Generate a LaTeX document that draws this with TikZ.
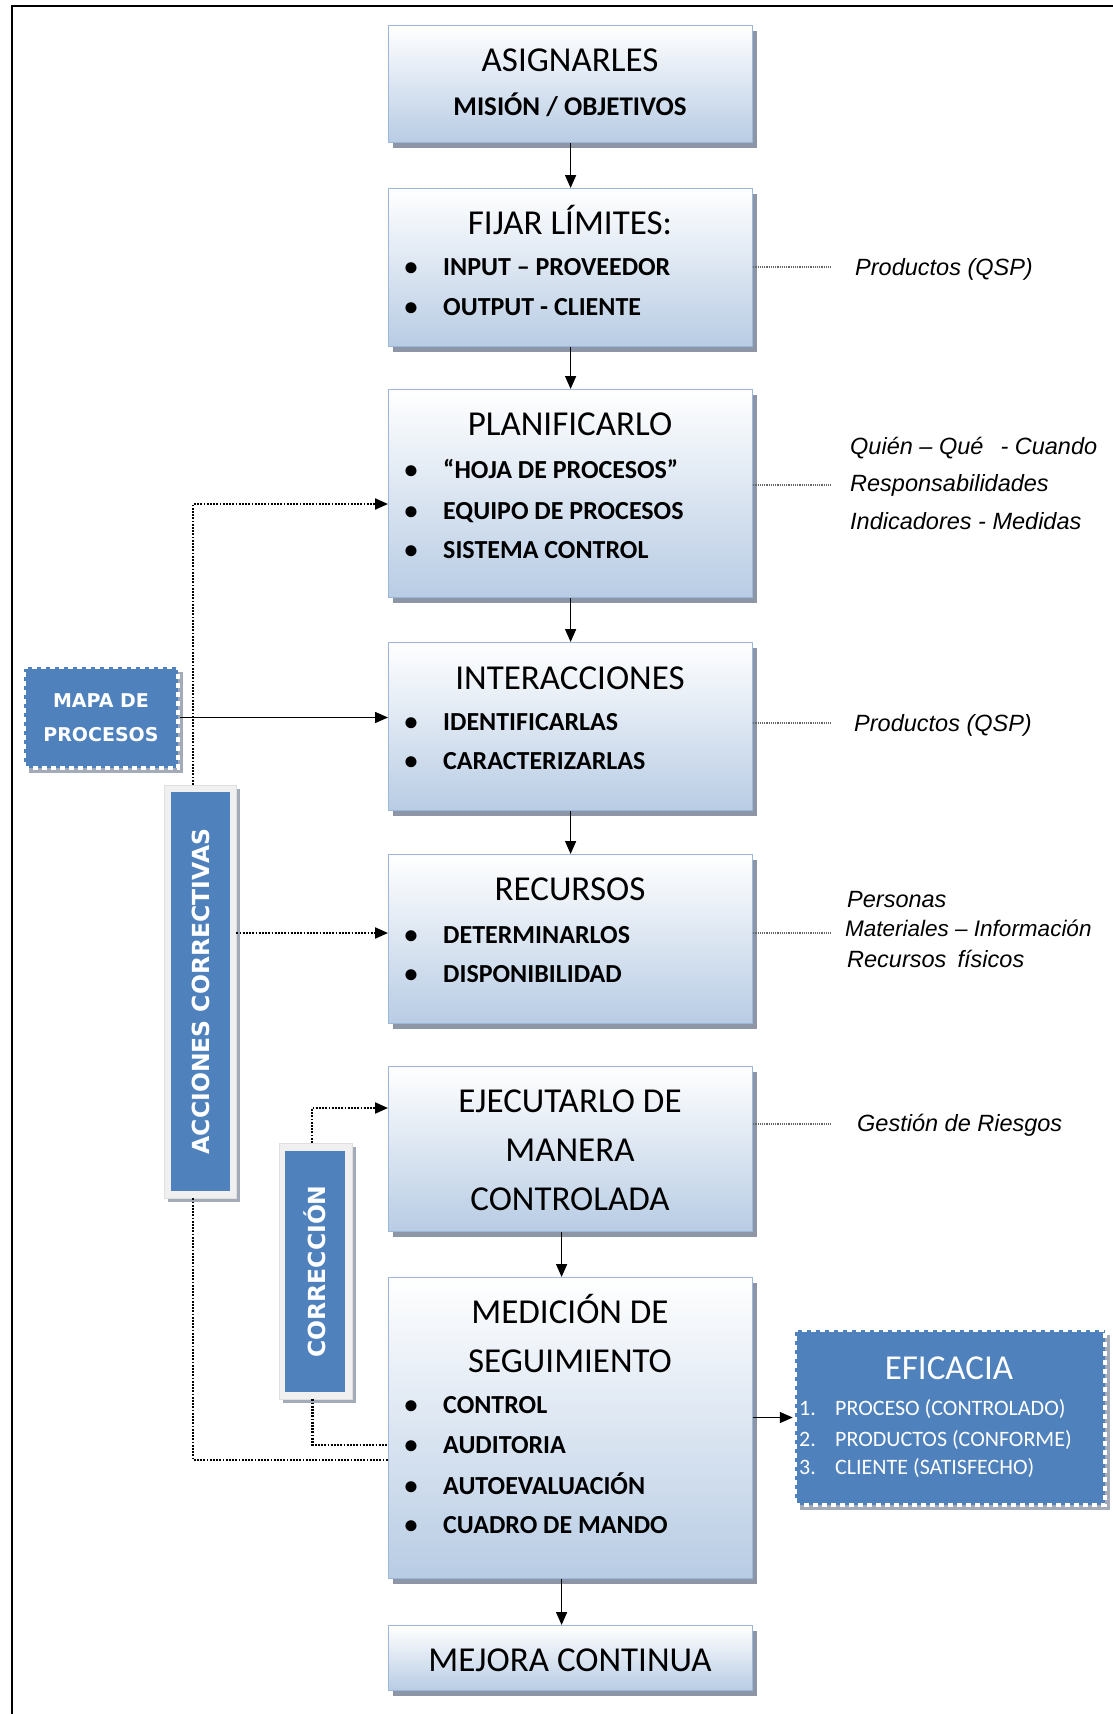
\documentclass[tikz,border=0pt]{standalone}
\usepackage{fontspec}
\setmainfont{Carlito}
\newfontfamily\labelfont{Liberation Sans}
\newfontfamily\tagfont{DejaVu Sans}
\usetikzlibrary{arrows.meta,calc,shadows}

\definecolor{boxbot}{RGB}{184,204,228}
\definecolor{boxedge}{RGB}{155,183,218}
\definecolor{shadowc}{RGB}{140,150,166}
\definecolor{tagblue}{RGB}{79,129,189}
\definecolor{tagframe}{RGB}{240,240,240}

\newcommand{\fsz}[1]{\fontsize{#1}{#1}\selectfont}
% one bullet line inside a process box: name, baseline, text
\newcommand{\bulletrow}[3]{%
  \node[bul] (#1d) at (411,#2) {•};
  \node[itm] (#1) at (443,#2) {#3};}

\begin{document}
\begin{tikzpicture}[x=1pt,y=-1pt,
  mainbox/.style={draw=boxedge, line width=1.2pt, top color=white, bottom color=boxbot,
    minimum width=364pt, inner sep=0pt, anchor=north west,
    drop shadow={shadow xshift=4pt,shadow yshift=-5pt,fill=shadowc,opacity=1}},
  ttl/.style={font=\fsz{35}, inner sep=0pt, anchor=base},
  subttl/.style={font=\bfseries\fsz{27}, inner sep=0pt, anchor=base},
  itm/.style={font=\bfseries\fsz{26}, inner sep=0pt, anchor=base west},
  bul/.style={font=\bfseries\fsz{26}, inner sep=0pt, anchor=base},
  sidenote/.style={font=\labelfont\itshape\fsz{23.5}, inner sep=0pt, anchor=base west},
  leader/.style={draw=black!60, line width=2.4pt, dash pattern=on 1.2pt off 1pt},
  flow/.style={draw=black, line width=1.5pt, -{Triangle[length=13pt,width=11pt]}},
  fbline/.style={draw=black, line width=2.2pt, dash pattern=on 1.8pt off 1.4pt},
  fbarr/.style={fbline, -{Triangle[length=13pt,width=11pt]}},
  stampbox/.style={fill=tagblue, draw=white, line width=4.5pt, dash pattern=on 5pt off 4pt,
    inner sep=0pt, drop shadow={shadow xshift=5pt,shadow yshift=-5pt,fill=shadowc!80,opacity=1}},
  barframe/.style={fill=tagframe, draw=gray!25, line width=0.6pt, inner sep=0pt,
    drop shadow={shadow xshift=4pt,shadow yshift=-4pt,fill=shadowc!80,opacity=1}},
  barin/.style={fill=tagblue, rotate=90, text=white, font=\tagfont\bfseries\fsz{23.5}, inner sep=0pt},
  efitem/.style={font=\fsz{22}, text=white, inner sep=0pt, anchor=base west}]

\useasboundingbox (0,0) rectangle (1113,1714);
\fill[white] (0,0) rectangle (1113,1714);
% page frame
\draw[line width=2.5pt] (12,1714) -- (12,6) -- (1113,6);

% process boxes
\node[mainbox, minimum height=117pt] (b1) at (388,25) {};
\node[mainbox, minimum height=158pt] (b2) at (388,188) {};
\node[mainbox, minimum height=208pt] (b3) at (388,389) {};
\node[mainbox, minimum height=168pt] (b4) at (388,642) {};
\node[mainbox, minimum height=169pt] (b5) at (388,854) {};
\node[mainbox, minimum height=165pt] (b6) at (388,1066) {};
\node[mainbox, minimum height=301pt] (b7) at (388,1277) {};
\node[mainbox, minimum height=65pt] (b8) at (388,1625) {};

% box texts
\node[ttl] (t1) at (570,71) {ASIGNARLES};
\node[subttl] (t1b) at (570,115) {MISIÓN / OBJETIVOS};

\node[ttl] (t2) at (570,234) {FIJAR LÍMITES:};
\bulletrow{i2a}{275}{INPUT – PROVEEDOR}
\bulletrow{i2b}{315}{OUTPUT - CLIENTE}

\node[ttl] (t3) at (570,435) {PLANIFICARLO};
\bulletrow{i3a}{478}{“HOJA DE PROCESOS”}
\bulletrow{i3b}{519}{EQUIPO DE PROCESOS}
\bulletrow{i3c}{558}{SISTEMA CONTROL}

\node[ttl] (t4) at (570,689) {INTERACCIONES};
\bulletrow{i4a}{730}{IDENTIFICARLAS}
\bulletrow{i4b}{769}{CARACTERIZARLAS}

\node[ttl] (t5) at (570,900) {RECURSOS};
\bulletrow{i5a}{943}{DETERMINARLOS}
\bulletrow{i5b}{982}{DISPONIBILIDAD}

\node[ttl] (t6a) at (570,1112) {EJECUTARLO DE};
\node[ttl] (t6b) at (570,1161) {MANERA};
\node[ttl] (t6c) at (570,1210) {CONTROLADA};

\node[ttl] (t7a) at (570,1323) {MEDICIÓN DE};
\node[ttl] (t7b) at (570,1372) {SEGUIMIENTO};
\bulletrow{i7a}{1413}{CONTROL}
\bulletrow{i7b}{1453}{AUDITORIA}
\bulletrow{i7c}{1494}{AUTOEVALUACIÓN}
\bulletrow{i7d}{1533}{CUADRO DE MANDO}

\node[ttl] (t8) at (570,1671) {MEJORA CONTINUA};

% main flow
\draw[flow] (b1.south) -- (b2.north);
\draw[flow] (b2.south) -- (b3.north);
\draw[flow] (b3.south) -- (b4.north);
\draw[flow] (b4.south) -- (b5.north);
\draw[flow] ($(b6.south)+(-9,0)$) -- ($(b7.north)+(-9,0)$);
\draw[flow] ($(b7.south)+(-9,0)$) -- ($(b8.north)+(-9,0)$);

% side notes with dotted leaders
\coordinate (n2) at (832,267);
\coordinate (n3) at (832,485);
\coordinate (n4) at (832,723);
\coordinate (n5) at (832,933);
\coordinate (n6) at (832,1124);
\draw[leader] (n2 -| b2.east) -- (n2);
\draw[leader] (n3 -| b3.east) -- (n3);
\draw[leader] (n4 -| b4.east) -- (n4);
\draw[leader] (n5 -| b5.east) -- (n5);
\draw[leader] (n6 -| b6.east) -- (n6);
\node[sidenote] (s2) at (855,275) {Productos (QSP)};
\node[sidenote] (s3a) at (850,454) {Quién – Qué\hspace{0.45em} - Cuando};
\node[sidenote] (s3b) at (850,491) {Responsabilidades};
\node[sidenote] (s3c) at (850,529) {Indicadores - Medidas};
\node[sidenote] (s4) at (854,731) {Productos (QSP)};
\node[sidenote] (s5a) at (847,907) {Personas};
\node[sidenote, font=\labelfont\itshape\fsz{22.5}] (s5b) at (845,936) {Materiales – Información};
\node[sidenote] (s5c) at (847,967) {Recursos\hspace{0.2em} físicos};
\node[sidenote] (s6) at (857,1131) {Gestión de Riesgos};

% process map input
\node[stampbox, minimum width=154pt, minimum height=101pt, text=white,
  font=\tagfont\bfseries\fontsize{19}{34}\selectfont, align=center] (mapa) at (101,717.5)
  {MAPA DE\\PROCESOS};
\draw[flow] (mapa.east) -- (mapa.east -| b4.west);

% effectiveness output
\node[stampbox, minimum width=310pt, minimum height=175pt] (efi) at (950,1417.5) {};
\node[font=\fsz{35}, text=white, inner sep=0pt, anchor=base] (efit) at (949,1379) {EFICACIA};
\node[efitem] (e1n) at (799,1415) {1.};
\node[efitem] (e1) at (835,1415) {PROCESO (CONTROLADO)};
\node[efitem] (e2n) at (799,1446) {2.};
\node[efitem] (e2) at (835,1446) {PRODUCTOS (CONFORME)};
\node[efitem] (e3n) at (799,1474) {3.};
\node[efitem] (e3) at (835,1474) {CLIENTE (SATISFECHO)};
\draw[flow] (efi.west -| b7.east) -- (efi.west);

% feedback bars
\node[barframe, minimum width=72pt, minimum height=413pt] (acc) at (200,991.5) {};
\node[barin, minimum width=399pt, minimum height=59pt] (accin) at (200.5,991.5) {ACCIONES CORRECTIVAS};
\node[barframe, minimum width=73pt, minimum height=256pt] (corr) at (315.5,1271) {};
\node[barin, minimum width=241pt, minimum height=60pt] (corrin) at (315,1271.5) {CORRECCIÓN};

% feedback loops
\coordinate (in3) at (388,504);
\coordinate (in5) at (388,933);
\coordinate (in6) at (388,1108);
\coordinate (in7a) at (388,1460);
\coordinate (in7b) at (388,1445);
\draw[fbarr] ($(acc.north)+(-7,0)$) |- (in3);
\draw[fbarr] (acc.east |- in5) -- (in5);
\draw[fbline] ($(acc.south)+(-7,0)$) |- (in7a);
\draw[fbarr] ($(corr.north)+(-3.5,0)$) |- (in6);
\draw[fbline] ($(corr.south)+(-3,0)$) |- (in7b);
\end{tikzpicture}
\end{document}
